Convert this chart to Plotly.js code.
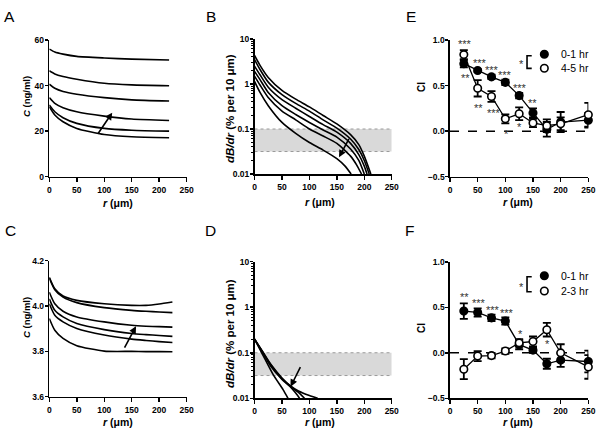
<!DOCTYPE html>
<html>
<head>
<meta charset="utf-8">
<script src="https://cdn.plot.ly/plotly-3.0.1.min.js"></script>
<style>body{margin:0;background:#fff} #chart{width:602px;height:440px}</style>
</head>
<body>
<div id="chart"></div>
<script>
var F = 'Arial, "Liberation Sans", sans-serif';

// ---- panel A: C (ng/ml) vs r, six curves ----
var rA = [0, 10, 25, 50, 100, 150, 218];
var cA1 = [56.0, 54.7, 53.8, 52.8, 52.1, 51.6, 51.2];
var cA2 = [46.5, 45.1, 44.0, 42.8, 41.0, 40.3, 39.9];
var cA3 = [40.6, 38.8, 37.4, 36.2, 34.7, 33.7, 33.2];
var cA4 = [34.7, 32.2, 30.3, 28.5, 26.6, 25.3, 24.7];
var cA5 = [31.5, 28.5, 25.9, 23.4, 21.2, 20.4, 20.0];
var cA6 = [30.7, 27.1, 24.1, 21.2, 18.5, 17.5, 17.1];

// ---- panel C ----
var rC = [0, 10, 25, 50, 100, 150, 176, 200, 224];
var cC1 = [4.127, 4.076, 4.044, 4.025, 4.010, 4.003, 4.003, 4.009, 4.018];
var cC2 = [4.123, 4.072, 4.039, 4.015, 3.993, 3.981, 3.977, 3.974, 3.971];
var cC3 = [4.061, 4.010, 3.977, 3.952, 3.930, 3.915, 3.911, 3.909, 3.907];
var cC4 = [4.032, 3.981, 3.952, 3.923, 3.896, 3.879, 3.874, 3.870, 3.866];
var cC5 = [4.010, 3.959, 3.930, 3.901, 3.872, 3.854, 3.848, 3.843, 3.839];
var cC6 = [3.945, 3.893, 3.857, 3.825, 3.801, 3.800, 3.799, 3.799, 3.798];

// ---- panel B: dB/dr (log) ----
var rB1 = [0, 10, 25, 50, 75, 100, 125, 150, 175, 190, 200, 212];
var bB1 = [4.3, 2.6, 1.4, 0.72, 0.46, 0.31, 0.2, 0.13, 0.075, 0.045, 0.025, 0.01];
var rB2 = [0, 10, 25, 50, 75, 100, 125, 150, 175, 190, 200, 209];
var bB2 = [3.5, 2.1, 1.1, 0.58, 0.37, 0.25, 0.16, 0.105, 0.06, 0.035, 0.02, 0.01];
var rB3 = [0, 10, 25, 50, 75, 100, 125, 150, 175, 190, 200, 205];
var bB3 = [2.5, 1.6, 0.85, 0.45, 0.29, 0.19, 0.125, 0.085, 0.048, 0.027, 0.015, 0.01];
var rB4 = [0, 10, 25, 50, 75, 100, 125, 150, 175, 190, 200];
var bB4 = [1.9, 1.25, 0.65, 0.33, 0.21, 0.14, 0.095, 0.066, 0.036, 0.02, 0.01];
var rB5 = [0, 10, 25, 50, 75, 100, 125, 150, 175, 186, 195];
var bB5 = [1.5, 0.95, 0.5, 0.25, 0.16, 0.1, 0.07, 0.048, 0.025, 0.016, 0.01];
var rB6 = [0, 10, 25, 50, 75, 100, 125, 150, 165, 176];
var bB6 = [1.14, 0.65, 0.33, 0.14, 0.08, 0.05, 0.034, 0.022, 0.015, 0.01];

// ---- panel D ----
var rD1 = [0, 15, 34, 52, 61];
var bD1 = [0.2, 0.09, 0.033, 0.0155, 0.01];
var rD2 = [0, 15, 30, 50, 65, 75, 82];
var bD2 = [0.2, 0.1, 0.05, 0.026, 0.018, 0.013, 0.01];
var rD3 = [0, 15, 30, 50, 65, 80, 91];
var bD3 = [0.2, 0.103, 0.053, 0.027, 0.0185, 0.0135, 0.01];
var rD4 = [0, 15, 30, 50, 65, 80, 100, 115];
var bD4 = [0.2, 0.105, 0.055, 0.028, 0.019, 0.0145, 0.0115, 0.01];

// shaded band (dB/dr range)
var bandLo = 0.0316, bandHi = 0.1;

// ---- panels E and F: CI ----
var rCI = [25, 50, 75, 100, 125, 150, 175, 200, 250];
var e01 = [0.74, 0.665, 0.595, 0.535, 0.39, 0.20, 0.02, 0.10, 0.12];
var e01Err = [0.04, 0.015, 0.025, 0.03, 0.03, 0.05, 0.08, 0.11, 0.08];
var e45 = [0.84, 0.47, 0.38, 0.135, 0.19, 0.09, 0.06, 0.08, 0.18];
var e45Err = [0.05, 0.09, 0.06, 0.05, 0.07, 0.045, 0.07, 0.07, 0.13];
var f01 = [0.46, 0.445, 0.385, 0.35, 0.09, 0.03, -0.12, -0.08, -0.095];
var f01Err = [0.085, 0.045, 0.035, 0.04, 0.05, 0.03, 0.055, 0.075, 0.12];
var f23 = [-0.18, -0.035, -0.03, 0.02, 0.11, 0.125, 0.255, 0.0, -0.155];
var f23Err = [0.11, 0.055, 0.03, 0.03, 0.04, 0.055, 0.075, 0.095, 0.13];

var starsEx = [27, 28, 55, 76, 100, 126, 150, 51, 79, 103, 126];
var starsEy = [0.96, 0.584, 0.75, 0.67, 0.62, 0.47, 0.305, 0.257, 0.194, -0.026, 0.04];
var starsEt = ['***', '**', '***', '***', '***', '***', '**', '**', '***', '*', '*'];
var starsFx = [25.5, 53, 77, 102.5, 127, 176];
var starsFy = [0.62, 0.547, 0.474, 0.444, 0.209, 0.099];
var starsFt = ['**', '***', '***', '***', '*', '*'];

var legE = ['0-1 hr', '4-5 hr'];
var legF = ['0-1 hr', '2-3 hr'];

var data = [];
function curve(x, y, xa, ya) {
  data.push({x: x, y: y, xaxis: xa, yaxis: ya, mode: 'lines', showlegend: false,
    line: {color: '#000', width: 1.6, shape: 'spline', smoothing: 0.6}, hoverinfo: 'skip'});
}
curve(rA, cA1, 'x', 'y'); curve(rA, cA2, 'x', 'y'); curve(rA, cA3, 'x', 'y');
curve(rA, cA4, 'x', 'y'); curve(rA, cA5, 'x', 'y'); curve(rA, cA6, 'x', 'y');
curve(rB1, bB1, 'x2', 'y2'); curve(rB2, bB2, 'x2', 'y2'); curve(rB3, bB3, 'x2', 'y2');
curve(rB4, bB4, 'x2', 'y2'); curve(rB5, bB5, 'x2', 'y2'); curve(rB6, bB6, 'x2', 'y2');
curve(rC, cC1, 'x4', 'y4'); curve(rC, cC2, 'x4', 'y4'); curve(rC, cC3, 'x4', 'y4');
curve(rC, cC4, 'x4', 'y4'); curve(rC, cC5, 'x4', 'y4'); curve(rC, cC6, 'x4', 'y4');
curve(rD1, bD1, 'x5', 'y5'); curve(rD2, bD2, 'x5', 'y5');
curve(rD3, bD3, 'x5', 'y5'); curve(rD4, bD4, 'x5', 'y5');

function ci(y, err, open, xa, ya) {
  data.push({x: rCI, y: y, xaxis: xa, yaxis: ya, mode: 'lines+markers', showlegend: false,
    cliponaxis: false,
    line: {color: '#000', width: 1.3},
    marker: {size: 7.5, color: open ? '#fff' : '#000', line: {color: '#000', width: 1.6}},
    error_y: {type: 'data', array: err, visible: true, color: '#000', thickness: 1.8, width: 4}});
}
ci(e01, e01Err, false, 'x3', 'y3');
ci(e45, e45Err, true, 'x3', 'y3');
ci(f01, f01Err, false, 'x6', 'y6');
ci(f23, f23Err, true, 'x6', 'y6');

// in-panel legend markers
function legMarks(xa, ya, y0, y1) {
  data.push({x: [170.5, 170.5], y: [y0, y1], xaxis: xa, yaxis: ya, mode: 'markers',
    showlegend: false, cliponaxis: false,
    marker: {size: 7.5, color: ['#000', '#fff'], line: {color: '#000', width: 1.6}}});
}
legMarks('x3', 'y3', 0.843, 0.69);
legMarks('x6', 'y6', 0.849, 0.681);

function ax(dom, anchor, extra) {
  return Object.assign({
    domain: dom, anchor: anchor, showgrid: false, zeroline: false,
    showline: true, linecolor: '#000', linewidth: 1.6,
    ticks: 'outside', ticklen: 3, tickwidth: 1.5, tickcolor: '#000',
    tickfont: {family: F, size: 8.5, weight: 'bold', color: '#000'},
    fixedrange: true
  }, extra);
}

var minorLog = [];
[0.01, 0.1, 1].forEach(function (d) { for (var k = 2; k <= 9; k++) minorLog.push(+(d * k).toPrecision(3)); });
var logY = {type: 'log', range: [-2, 1], tickmode: 'array', ticklabelstandoff: -1,
  tickvals: [0.01, 0.1, 1, 10], ticktext: ['0.01', '0.1', '1', '10'],
  minor: {tickmode: 'array', tickvals: minorLog, ticks: 'outside', ticklen: 2, tickwidth: 1, tickcolor: '#000'}};
var xr = {range: [0, 250], tickvals: [0, 50, 100, 150, 200, 250], ticklen: 4};
var ciY = {range: [-0.5, 1.0], tickvals: [-0.5, 0, 0.5, 1.0], tickformat: '.1f', ticklabelstandoff: -1};

var xdA = [0.0819, 0.3101], xdB = [0.4228, 0.6507], xdE = [0.7475, 0.9773];

var layout = {
  width: 602, height: 440, margin: {l: 0, r: 0, t: 0, b: 0},
  paper_bgcolor: '#fff', plot_bgcolor: 'rgba(0,0,0,0)', showlegend: false,
  font: {family: F, color: '#000'},
  xaxis: ax(xdA, 'y', xr),
  yaxis: ax([0.5984, 0.9091], 'x', {range: [0, 60], tickvals: [0, 20, 40, 60], ticklabelstandoff: -1}),
  xaxis2: ax(xdB, 'y2', xr),
  yaxis2: ax([0.6045, 0.9114], 'x2', logY),
  xaxis3: ax(xdE, 'y3', xr),
  yaxis3: ax([0.5984, 0.9091], 'x3', ciY),
  xaxis4: ax(xdA, 'y4', xr),
  yaxis4: ax([0.0984, 0.4075], 'x4', {range: [3.6, 4.2], tickvals: [3.6, 3.8, 4.0, 4.2], tickformat: '.1f', ticklabelstandoff: -1}),
  xaxis5: ax(xdB, 'y5', xr),
  yaxis5: ax([0.0948, 0.4052], 'x5', logY),
  xaxis6: ax(xdE, 'y6', xr),
  yaxis6: ax([0.0948, 0.4045], 'x6', ciY),
  shapes: [],
  annotations: []
};

// grey bands in B and D, dashed zero lines in E and F, legend brackets
[['x2', 'y2'], ['x5', 'y5']].forEach(function (p) {
  layout.shapes.push({type: 'rect', xref: p[0], yref: p[1], x0: 0, x1: 250, y0: bandLo, y1: bandHi,
    fillcolor: '#d9d9d9', line: {width: 0}, layer: 'below'});
  [bandLo, bandHi].forEach(function (v) {
    layout.shapes.push({type: 'line', xref: p[0], yref: p[1], x0: 0, x1: 250, y0: v, y1: v,
      line: {color: '#9a9a9a', width: 1, dash: 'dot'}, layer: 'below'});
  });
});
['3', '6'].forEach(function (n) {
  layout.shapes.push({type: 'line', xref: 'x' + n, yref: 'y' + n, x0: 0, x1: 250, y0: 0, y1: 0,
    line: {color: '#000', width: 1.5, dash: 'dash'}, layer: 'below'});
});
layout.shapes.push({type: 'path', xref: 'x3', yref: 'y3', path: 'M147.7,0.828 L139.2,0.828 L139.2,0.689 L147.7,0.689',
  line: {color: '#000', width: 1.6}});
layout.shapes.push({type: 'path', xref: 'x6', yref: 'y6', path: 'M147.7,0.838 L139.2,0.838 L139.2,0.673 L147.7,0.673',
  line: {color: '#000', width: 1.6}});

function note(xa, ya, x, y, t, size, color, anchor) {
  layout.annotations.push({xref: xa, yref: ya, x: x, y: y, text: t, showarrow: false,
    xanchor: anchor || 'center', yanchor: 'middle',
    font: {family: F, size: size, color: color || '#000'}});
}
starsEt.forEach(function (t, i) { note('x3', 'y3', starsEx[i], starsEy[i], t, 11, '#333'); });
starsFt.forEach(function (t, i) { note('x6', 'y6', starsFx[i], starsFy[i], t, 11, '#333'); });
note('x3', 'y3', 129.6, 0.74, '*', 11, '#333');
note('x6', 'y6', 129.6, 0.725, '*', 11, '#333');
note('x3', 'y3', 197.6, 0.843, legE[0], 10.5, '#000', 'left');
note('x3', 'y3', 197.6, 0.69, legE[1], 10.5, '#000', 'left');
note('x6', 'y6', 197.6, 0.849, legF[0], 10.5, '#000', 'left');
note('x6', 'y6', 197.6, 0.681, legF[1], 10.5, '#000', 'left');

// axis titles, placed in pixels as in the original figure
var rT = '<i>r</i> (μm)', cT = '<i>C</i> (ng/ml)', bT = '<i>dB/dr</i> (% per 10 μm)';
[[rT, 118, 203, 0, 10.5], [rT, 320, 202, 0, 10.5], [rT, 518, 202, 0, 10.5],
 [rT, 118, 422, 0, 10.5], [rT, 320, 422, 0, 10.5], [rT, 518, 422, 0, 10.5],
 [cT, 26, 97, -90, 9.5], [cT, 26, 318, -90, 9.5],
 [bT, 230, 109, -90, 11.5], [bT, 230, 334, -90, 11.5],
 ['CI', 421, 87, -90, 10], ['CI', 421, 328, -90, 10]].forEach(function (t) {
  layout.annotations.push({xref: 'paper', yref: 'paper', x: t[1] / 602, y: 1 - t[2] / 440, textangle: t[3],
    text: t[0], showarrow: false, xanchor: 'center', yanchor: 'middle',
    font: {family: F, size: t[4], weight: 'bold', color: '#000'}});
});

// arrows
function arrow(xa, ya, x, y, tx, ty) {
  layout.annotations.push({xref: xa, yref: ya, axref: xa, ayref: ya, x: x, y: y, ax: tx, ay: ty,
    text: '', showarrow: true, arrowhead: 2, arrowsize: 0.9, arrowwidth: 1.6, arrowcolor: '#000', standoff: 0});
}
arrow('x', 'y', 114.5, 28.1, 86.7, 18.2);
arrow('x4', 'y4', 157.8, 3.911, 135.5, 3.810);
arrow('x2', 'y2', 154, Math.log10(0.0236), 173.5, Math.log10(0.065));
arrow('x5', 'y5', 65.7, Math.log10(0.018), 84.9, Math.log10(0.052));

// panel letters
[['A', 9, 16], ['B', 210.5, 16], ['E', 410.5, 16], ['C', 10, 230], ['D', 210, 230], ['F', 409, 230]].forEach(function (l) {
  layout.annotations.push({xref: 'paper', yref: 'paper', x: l[1] / 602, y: 1 - l[2] / 440, text: l[0],
    showarrow: false, xanchor: 'center', yanchor: 'middle', font: {family: F, size: 15.5, color: '#000'}});
});

Plotly.newPlot('chart', data, layout, {staticPlot: true});
</script>
</body>
</html>
